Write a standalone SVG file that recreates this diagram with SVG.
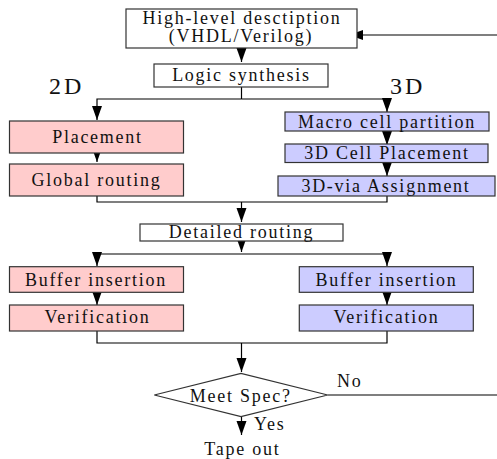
<svg xmlns="http://www.w3.org/2000/svg" width="497" height="459" viewBox="0 0 497 459">
<defs>
<style>
.t{font-family:"Liberation Serif","Times New Roman",serif;font-size:18px;letter-spacing:1.75px;fill:#111;text-anchor:middle}
.l{font-family:"Liberation Serif","Times New Roman",serif;font-size:18px;letter-spacing:1.75px;fill:#111}
.big{font-family:"Liberation Serif","Times New Roman",serif;font-size:24px;letter-spacing:3px;fill:#111}
.w{fill:#fff;stroke:#333;stroke-width:1.2}
.p{fill:#ffcccc;stroke:#333;stroke-width:1.2}
.b{fill:#ccccff;stroke:#333;stroke-width:1.2}
.c{fill:none;stroke:#000;stroke-width:1.2}
</style>
<marker id="ah" markerUnits="userSpaceOnUse" markerWidth="14" markerHeight="10" refX="14" refY="5" orient="auto" overflow="visible">
<path d="M0,0 L14,5 L0,10 z" fill="#000"/>
</marker>
</defs>
<g id="connectors">
<path class="c" d="M327.7,395 H500 V35 H349" marker-end="url(#ah)"/>
<path class="c" d="M241.5,48 V62" marker-end="url(#ah)"/>
<path class="c" d="M241.5,87 V99"/>
<path class="c" d="M241.5,99 H97 V120" marker-end="url(#ah)"/>
<path class="c" d="M241.5,99 H387 V112" marker-end="url(#ah)"/>
<path class="c" d="M97,153 V162" marker-end="url(#ah)"/>
<path class="c" d="M387,131 V145" marker-end="url(#ah)"/>
<path class="c" d="M387,162.5 V176" marker-end="url(#ah)"/>
<path class="c" d="M97,196 V202 H387 V196"/>
<path class="c" d="M241.5,202 V222" marker-end="url(#ah)"/>
<path class="c" d="M241.5,241 V252" marker-end="url(#ah)"/>
<path class="c" d="M97,254 H387"/>
<path class="c" d="M97,254 V266" marker-end="url(#ah)"/>
<path class="c" d="M387,254 V266" marker-end="url(#ah)"/>
<path class="c" d="M97,292 V305" marker-end="url(#ah)"/>
<path class="c" d="M387,292 V305" marker-end="url(#ah)"/>
<path class="c" d="M97,331 V343 H387 V331"/>
<path class="c" d="M241.5,343 V372" marker-end="url(#ah)"/>
<path class="c" d="M241.5,417 V435" marker-end="url(#ah)"/>
</g>
<g id="labels">
<text class="big" x="49" y="94">2D</text>
<text class="big" x="390" y="94">3D</text>
<text class="l" x="337" y="387">No</text>
<text class="l" x="254" y="430">Yes</text>
</g>
<g id="n-hld">
<rect class="w" x="126" y="9" width="231" height="39"/>
<text class="t" x="242" y="23.5">High-level desctiption</text>
<text class="t" x="241" y="42">(VHDL/Verilog)</text>
</g>
<g id="n-logic">
<rect class="w" x="154" y="64" width="174" height="23"/>
<text class="t" x="241.5" y="81">Logic synthesis</text>
</g>
<g id="n-place">
<rect class="p" x="9.5" y="121" width="174" height="32"/>
<text class="t" x="97.5" y="142.5">Placement</text>
</g>
<g id="n-groute">
<rect class="p" x="9.5" y="164" width="174" height="32"/>
<text class="t" x="96.5" y="186">Global routing</text>
</g>
<g id="n-macro">
<rect class="b" x="285" y="112" width="204" height="19"/>
<text class="t" x="387" y="127.5">Macro cell partition</text>
</g>
<g id="n-3dcell">
<rect class="b" x="285" y="144" width="203" height="18.5"/>
<text class="t" x="387" y="159">3D Cell Placement</text>
</g>
<g id="n-3dvia">
<rect class="b" x="278" y="176" width="217" height="20"/>
<text class="t" x="386" y="192">3D-via Assignment</text>
</g>
<g id="n-detail">
<rect class="w" x="140" y="224" width="203" height="17"/>
<text class="t" x="241.5" y="237.5">Detailed routing</text>
</g>
<g id="n-buf2d">
<rect class="p" x="9.5" y="266.7" width="174" height="25.6"/>
<text class="t" x="96" y="285.7">Buffer insertion</text>
</g>
<g id="n-buf3d">
<rect class="b" x="299.3" y="266.7" width="174" height="25.6"/>
<text class="t" x="386.5" y="285.7">Buffer insertion</text>
</g>
<g id="n-ver2d">
<rect class="p" x="9.5" y="305" width="174" height="26"/>
<text class="t" x="97.5" y="323.3">Verification</text>
</g>
<g id="n-ver3d">
<rect class="b" x="299.3" y="305" width="174" height="26"/>
<text class="t" x="386.5" y="323.3">Verification</text>
</g>
<g id="n-spec">
<polygon class="w" points="154.3,395 241,373.3 327.7,395 241,416.7"/>
<text class="t" x="240.8" y="401.7">Meet Spec?</text>
</g>
<g id="n-tape">
<text class="t" x="242.3" y="455">Tape out</text>
</g>
</svg>
